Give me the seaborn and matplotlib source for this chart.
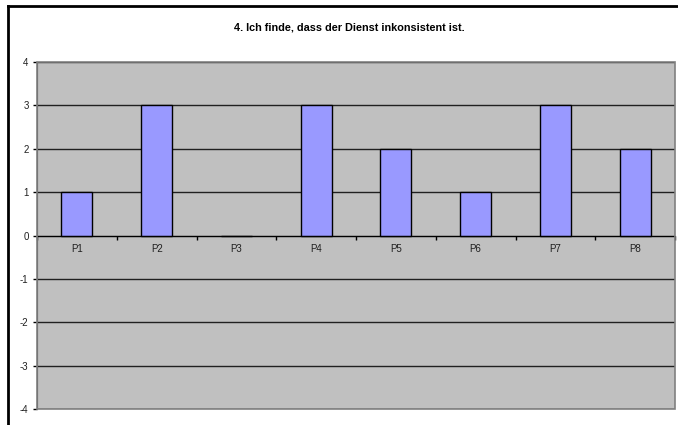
import matplotlib
matplotlib.use("Agg")
import matplotlib.pyplot as plt
from matplotlib.lines import Line2D
from matplotlib.patches import Rectangle
from matplotlib.ticker import FixedLocator, NullFormatter
import seaborn as sns
import pandas as pd

# Survey answers per participant
participants = ["P1", "P2", "P3", "P4", "P5", "P6", "P7", "P8"]
scores = [1, 3, 0, 3, 2, 1, 3, 2]
y_ticks = [-4, -3, -2, -1, 0, 1, 2, 3, 4]
title = "4. Ich finde, dass der Dienst inkonsistent ist."

plt.rcParams["font.family"] = ["Liberation Sans", "DejaVu Sans"]
plt.rcParams["axes.unicode_minus"] = False

df = pd.DataFrame({"Teilnehmer": participants, "Wert": scores})

fig = plt.figure(figsize=(6.78, 4.25), dpi=100, facecolor="white")
ax = fig.add_axes([37 / 678, 1 - 409 / 425, (675 - 37) / 678, (409 - 62) / 425])
ax.set_facecolor("#C0C0C0")

sns.barplot(data=df, x="Teilnehmer", y="Wert", color="#9999FF", saturation=1,
            edgecolor="black", linewidth=1, width=0.39, ax=ax, zorder=3)

ax.set_xlim(-0.5, len(participants) - 0.5)
ax.set_ylim(min(y_ticks), max(y_ticks))
ax.set_yticks(y_ticks)
ax.set_xlabel("")
ax.set_ylabel("")

# horizontal gridlines
ax.set_axisbelow(True)
ax.yaxis.grid(True, color="#202020", linewidth=1)
ax.xaxis.grid(False)

# category axis runs along zero, ticks at category boundaries
ax.spines["bottom"].set_position(("data", 0))
ax.spines["bottom"].set_color("black")
ax.spines["bottom"].set_zorder(4)
for s in ["top", "right"]:
    ax.spines[s].set_visible(False)
ax.spines["left"].set_color("#404040")

bounds = [i - 0.5 for i in range(len(participants) + 1)]
ax.xaxis.set_major_locator(FixedLocator(bounds))
ax.xaxis.set_major_formatter(NullFormatter())
ax.xaxis.set_minor_locator(FixedLocator(list(range(len(participants)))))
ax.set_xticklabels(participants, minor=True)
ax.tick_params(axis="x", which="major", direction="out", length=3, width=1, color="black")
ax.tick_params(axis="x", which="minor", length=0, pad=6, labelsize=7, labelcolor="#202020")
ax.tick_params(axis="y", direction="out", length=3, width=1, color="black",
               pad=3, labelsize=7, labelcolor="#202020")

# plot area border
ax.add_patch(Rectangle((0, 0), 1, 1, transform=ax.transAxes, fill=False,
                       edgecolor="#808080", linewidth=1.2, clip_on=False, zorder=5))

# chart frame
fig.add_artist(Line2D([8 / 678, 1.0], [1 - 6 / 425, 1 - 6 / 425], color="black", lw=2))
fig.add_artist(Line2D([8 / 678, 8 / 678], [0, 1 - 6 / 425], color="black", lw=2))

fig.text(349 / 678, 1 - 28 / 425, title, ha="center", va="center",
         fontsize=7.8, fontweight="bold")

fig.savefig("out.png", dpi=100, facecolor="white")
